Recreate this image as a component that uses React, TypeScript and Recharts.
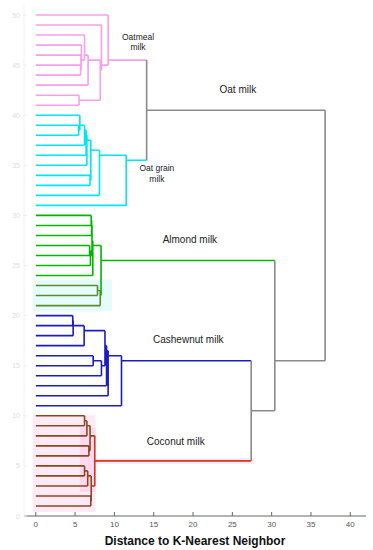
import React from "react";
import { LineChart, Line, XAxis, YAxis, ReferenceArea, ReferenceDot } from "recharts";

const FONT = "'Liberation Sans', Arial, sans-serif";

const PINK = "#f7a0ea";
const CYAN = "#00e6ef";
const GREEN = "#00b400";
const OLIVE = "#5e8a2c";
const BLUE = "#1c1cc6";
const BROWN = "#8c4a1c";
const RED = "#e0301a";
const GRAY = "#8a8a8a";

// leaves are numbered 1..50 from bottom to top
type Child = number | string;
type Link = [string, Child, Child, number]; // node id, child a, child b, merge distance

const coconutLinks: Link[] = [
  ["c1", 10, 9, 6.2],
  ["c2", "c1", 8, 6.5],
  ["c3", 7, 6, 6.75],
  ["c4", "c2", "c3", 6.9],
  ["c5", 5, 4, 6.2],
  ["c6", "c5", 3, 6.6],
  ["c7", 2, 1, 7.0],
  ["c8", "c6", "c7", 7.05],
  ["coconut", "c4", "c8", 7.5],
];

const cashewLinks: Link[] = [
  ["b1", 20, 19, 4.7],
  ["b2", "b1", 18, 4.75],
  ["b3", "b2", 17, 6.15],
  ["b4", 16, 15, 7.3],
  ["b5", "b4", 14, 8.35],
  ["b6", "b3", "b5", 8.8],
  ["b7", "b6", 13, 9.0],
  ["b8", "b7", 12, 9.2],
  ["cashew", "b8", 11, 10.9],
];

const almondLinks: Link[] = [
  ["g1", 30, 29, 7.05],
  ["g2", "g1", 28, 7.1],
  ["g3", 27, 26, 6.85],
  ["g4", "g3", 25, 6.95],
  ["g5", "g2", "g4", 7.15],
  ["g6", "g5", 24, 7.25],
  ["g7", 23, 22, 7.85],
  ["g8", "g7", 21, 8.2],
  ["almond", "g6", "g8", 8.3],
];

const oatGrainLinks: Link[] = [
  ["q1", 39, 38, 5.45],
  ["q2", 40, "q1", 5.6],
  ["q3", "q2", 37, 6.2],
  ["q4", "q3", 36, 6.4],
  ["q5", "q4", 35, 6.5],
  ["q6", 34, 33, 6.9],
  ["q7", "q5", "q6", 7.0],
  ["q8", "q7", 32, 8.1],
  ["oatgrain", "q8", 31, 11.5],
];

const oatmealLinks: Link[] = [
  ["p1", 45, 44, 5.7],
  ["p2", 46, "p1", 5.75],
  ["p3", 47, "p2", 5.8],
  ["p4", 48, "p3", 6.2],
  ["p5", "p4", 43, 6.65],
  ["p6", 42, 41, 5.5],
  ["p7", "p5", "p6", 8.2],
  ["p8", 49, "p7", 8.35],
  ["oatmeal", 50, "p8", 9.2],
];

const mergeLinks: Link[] = [
  ["oat", "oatmeal", "oatgrain", 14.1],
  ["nuts", "cashew", "coconut", 27.4],
  ["others", "almond", "nuts", 30.4],
  ["root", "oat", "others", 36.8],
];

const LEAF_COUNT = 50;
const X_TICKS = [0, 5, 10, 15, 20, 25, 30, 35, 40];
const Y_TICKS = [0, 5, 10, 15, 20, 25, 30, 35, 40, 45, 50];

const groups: { links: Link[]; color: string }[] = [
  { links: coconutLinks, color: BROWN },
  { links: cashewLinks, color: BLUE },
  { links: almondLinks, color: GREEN },
  { links: oatGrainLinks, color: CYAN },
  { links: oatmealLinks, color: PINK },
  { links: mergeLinks, color: GRAY },
];
const colorOverride: Record<string, string> = {
  coconut: RED,
  g7: OLIVE,
  g8: OLIVE,
  "23": OLIVE,
  "22": OLIVE,
  "21": OLIVE,
};

type Node = { h: number; leaves: number[]; color: string; a?: Child; b?: Child; parent?: string };

function buildTree() {
  const nodes = new Map<string, Node>();
  for (let i = 1; i <= LEAF_COUNT; i++) nodes.set(String(i), { h: 0, leaves: [i], color: GRAY });
  groups.forEach((g) => {
    g.links.forEach(([id, a, b, h]) => {
      const na = nodes.get(String(a))!;
      const nb = nodes.get(String(b))!;
      na.parent = id;
      nb.parent = id;
      if (na.h === 0) na.color = colorOverride[String(a)] || g.color;
      if (nb.h === 0) nb.color = colorOverride[String(b)] || g.color;
      nodes.set(id, { h, leaves: [...na.leaves, ...nb.leaves], color: colorOverride[id] || g.color, a, b });
    });
  });
  const yOf = (n: Node) => n.leaves.reduce((s, v) => s + v, 0) / n.leaves.length;

  const byColor = new Map<string, { x: number; y: number | null }[]>();
  const push = (color: string, x1: number, y1: number, x2: number, y2: number) => {
    if (!byColor.has(color)) byColor.set(color, []);
    byColor.get(color)!.push({ x: x1, y: y1 }, { x: x2, y: y2 }, { x: x2, y: null });
  };
  nodes.forEach((n) => {
    const y = yOf(n);
    if (n.parent) push(n.color, n.h, y, nodes.get(n.parent)!.h, y);
    if (n.a !== undefined && n.b !== undefined) {
      push(n.color, n.h, yOf(nodes.get(String(n.a))!), n.h, yOf(nodes.get(String(n.b))!));
    }
  });
  return Array.from(byColor.entries());
}

const series = buildTree();

// annotation placement (data units)
const labels: { lines: string[]; x: number; y: number; size: number }[] = [
  { lines: ["Oatmeal", "milk"], x: 13.0, y: 47.5, size: 8.5 },
  { lines: ["Oat grain", "milk"], x: 15.4, y: 34.4, size: 8.5 },
  { lines: ["Oat milk"], x: 25.7, y: 42.2, size: 10 },
  { lines: ["Almond milk"], x: 19.6, y: 27.2, size: 10 },
  { lines: ["Cashewnut milk"], x: 19.4, y: 17.3, size: 10 },
  { lines: ["Coconut milk"], x: 17.8, y: 7.1, size: 10 },
];

function BottomTick({ x, y, payload }: any) {
  return (
    <g>
      <line x1={x} x2={x} y1={y} y2={y - 4} stroke="#666" />
      <text x={x} y={y + 11} textAnchor="middle" fontSize={8} fill="#555" fontFamily={FONT}>
        {payload.value}
      </text>
    </g>
  );
}

function TopTick({ x, y }: any) {
  return <line x1={x} x2={x} y1={y} y2={y + 4} stroke="#666" />;
}

function LeftTick({ x, y, payload }: any) {
  return (
    <g>
      <line x1={x} x2={x + 3} y1={y} y2={y} stroke="#eeeeee" />
      <text x={x - 4} y={y + 2.5} textAnchor="end" fontSize={7} fill="#dedede" fontFamily={FONT}>
        {payload.value}
      </text>
    </g>
  );
}

function RightTick({ x, y }: any) {
  return <line x1={x} x2={x - 3} y1={y} y2={y} stroke="#eeeeee" />;
}

function TextShape(lines: string[], size: number) {
  return (p: any) => (
    <text x={p.cx} y={p.cy} textAnchor="middle" fontSize={size} fill="#222" fontFamily={FONT}>
      {lines.map((l, i) => (
        <tspan key={i} x={p.cx} dy={i === 0 ? 0 : size * 1.2}>
          {l}
        </tspan>
      ))}
    </text>
  );
}

export default function App() {
  return (
    <div style={{ position: "absolute", left: 0, top: 0, background: "#fff" }}>
      <LineChart width={373} height={550} margin={{ top: 5, right: 7, bottom: 0, left: 0 }}>
        <XAxis
          xAxisId={0}
          type="number"
          dataKey="x"
          domain={[-1.5, 42]}
          ticks={X_TICKS}
          allowDataOverflow
          height={34}
          tickSize={0}
          tickMargin={0}
          tickLine={false}
          axisLine={{ stroke: "#666" }}
          tick={<BottomTick />}
          interval={0}
          label={{
            value: "Distance to K-Nearest Neighbor",
            position: "insideBottom",
            offset: 5,
            style: { fontSize: 12, fontWeight: "bold", fill: "#111", fontFamily: FONT },
          }}
        />
        <XAxis
          xAxisId="top"
          orientation="top"
          type="number"
          dataKey="x"
          domain={[-1.5, 42]}
          ticks={X_TICKS}
          allowDataOverflow
          height={0}
          tickSize={0}
          tickMargin={0}
          tickLine={false}
          axisLine={{ stroke: "#666" }}
          tick={<TopTick />}
          interval={0}
        />
        <YAxis
          yAxisId={0}
          type="number"
          domain={[0, 51]}
          ticks={Y_TICKS}
          allowDataOverflow
          width={24}
          tickSize={0}
          tickMargin={0}
          tickLine={false}
          axisLine={{ stroke: "#f0f0f0" }}
          tick={<LeftTick />}
          interval={0}
        />
        <YAxis
          yAxisId="r"
          orientation="right"
          type="number"
          domain={[0, 51]}
          ticks={Y_TICKS}
          allowDataOverflow
          width={0}
          tickSize={0}
          tickMargin={0}
          tickLine={false}
          axisLine={{ stroke: "#f0f0f0" }}
          tick={<RightTick />}
          interval={0}
        />
        <ReferenceArea x1={-0.4} x2={7.6} y1={0.4} y2={10.1} fill="#ffeaf8" fillOpacity={1} stroke="none" />
        <ReferenceArea x1={5.6} x2={7.6} y1={2.4} y2={8.8} fill="#ffd2f0" fillOpacity={0.7} stroke="none" />
        <ReferenceArea x1={7.6} x2={27.8} y1={5.2} y2={5.8} fill="#ffeaf8" fillOpacity={1} stroke="none" />
        <ReferenceArea x1={-0.4} x2={9.7} y1={20.4} y2={23.6} fill="#e6fcfc" fillOpacity={1} stroke="none" />
        {series.map(([color, data]) => (
          <Line
            key={color}
            data={data}
            dataKey="y"
            stroke={color}
            strokeWidth={1.6}
            dot={false}
            activeDot={false}
            connectNulls={false}
            type="linear"
            isAnimationActive={false}
          />
        ))}
        {labels.map((l) => (
          <ReferenceDot
            key={l.lines.join(" ")}
            x={l.x}
            y={l.y}
            r={1}
            fill="none"
            stroke="none"
            shape={TextShape(l.lines, l.size)}
          />
        ))}
      </LineChart>
    </div>
  );
}
